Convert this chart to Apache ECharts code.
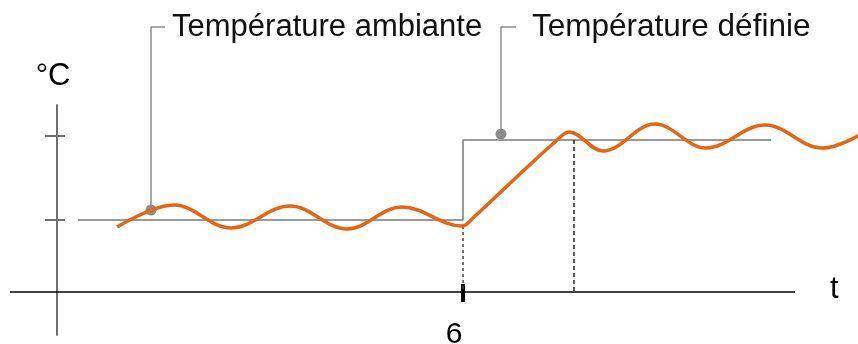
<!DOCTYPE html>
<html>
<head>
<meta charset="utf-8">
<script src="https://cdn.jsdelivr.net/npm/echarts@6/dist/echarts.min.js"></script>
<style>
html,body{margin:0;padding:0;background:#fff;}
#chart{width:858px;height:344px;}
</style>
</head>
<body>
<div id="chart"></div>
<script>
// ---- data (t in time units, v in arbitrary temperature units) ----
var xTickValues = [6];
var yTickValues = [18, 39];
var timeAxisExtent = [-0.695, 10.906];   // drawn part of the t axis
var setpointLine = [[0.31, 18], [6, 18], [6, 38], [10.55, 38]];
// extrema of the ambient temperature wave and points on the linear rise
var ambientTemp = [
  [0.887, 16.25], [1.729, 21.75], [2.571, 16], [3.443, 21.5], [4.286, 15.75],
  [5.098, 21.25], [5.985, 16.5], [6.163, 18.75], [6.872, 30], [7.360, 37.5],
  [7.567, 40], [8.069, 35.25], [8.837, 42], [9.591, 36], [10.463, 41.75],
  [11.305, 36], [12.133, 42]
];
var dropLine1 = [[6, 16.5], [6, 0]];
var dropLine2 = [[7.64, 38], [7.64, 0]];
var calloutAmbient = [[1.389, 20.5], [1.389, 66.25], [1.596, 66.25]];
var calloutSetpoint = [[6.561, 39.5], [6.561, 66.25], [6.783, 66.25]];
var labelAmbient = 'Température ambiante';
var labelSetpoint = 'Température définie';
var timeName = 't';
var tempName = '°C';

var FONT = '"Liberation Sans", Arial, sans-serif';
var chart = echarts.init(document.getElementById('chart'));
chart.setOption({
  animation: false,
  backgroundColor: '#fff',
  grid: {left: 10, right: 0, top: 105, bottom: 9, containLabel: false, outerBoundsMode: 'none'},
  xAxis: {
    type: 'value', min: timeAxisExtent[0], max: 11.837,
    axisLine: {show: false},
    axisTick: {show: false},
    splitLine: {show: false},
    axisLabel: {show: false}
  },
  yAxis: {
    type: 'value', min: -10.75, max: 46.75,
    axisLine: {show: true, onZero: true, lineStyle: {color: '#707070', width: 2}},
    axisTick: {show: false},
    splitLine: {show: false},
    axisLabel: {show: false},
    name: tempName, nameLocation: 'end', nameGap: 13,
    nameTextStyle: {fontSize: 31, color: '#000', fontFamily: FONT, align: 'center', padding: [0, 8, 0, 0]}
  },
  series: [
    {type: 'line', data: timeAxisExtent.map(function (t) { return [t, 0]; }), symbol: 'none', clip: false, silent: true,
     lineStyle: {color: '#000', width: 1.3},
     endLabel: {show: true, formatter: timeName, fontSize: 31, color: '#000', fontFamily: FONT, distance: 35, offset: [0, -3]}},
    {type: 'line', data: setpointLine, symbol: 'none', clip: false, silent: true,
     lineStyle: {color: '#9a9a9a', width: 2}},
    {type: 'line', data: dropLine1, symbol: 'none', clip: false,
     lineStyle: {color: '#444', width: 1.5, type: [3, 3]}},
    {type: 'line', data: dropLine2, symbol: 'none', clip: false,
     lineStyle: {color: '#222', width: 1.5, type: [4, 3]}},
    {type: 'line', data: ambientTemp, symbol: 'none', smooth: 0.37, clip: false,
     lineStyle: {color: '#E8640E', width: 3.5}},
    {type: 'scatter', clip: false, symbol: 'rect', symbolSize: [20, 2], symbolOffset: [-2, 0],
     itemStyle: {color: '#707070', opacity: 1},
     data: yTickValues.map(function (v) { return [0, v]; })},
    {type: 'scatter', clip: false, symbol: 'rect', symbolSize: [4, 18], symbolOffset: [0, 1],
     itemStyle: {color: '#000', opacity: 1},
     label: {show: true, position: 'bottom', distance: 18, offset: [-9, 0],
             fontSize: 30, color: '#000', fontFamily: FONT,
             formatter: function (p) { return String(p.value[0]); }},
     data: xTickValues.map(function (t) { return [t, 0]; })},
    {type: 'line', data: calloutAmbient, symbol: 'none', clip: false,
     lineStyle: {color: '#8c8c8c', width: 1.5},
     endLabel: {show: true, formatter: labelAmbient, fontSize: 31, color: '#111', fontFamily: FONT, distance: 7}},
    {type: 'line', data: calloutSetpoint, symbol: 'none', clip: false,
     lineStyle: {color: '#8c8c8c', width: 1.5},
     endLabel: {show: true, formatter: labelSetpoint, fontSize: 31.5, color: '#111', fontFamily: FONT, distance: 16}},
    {type: 'scatter', clip: false, symbol: 'circle', symbolSize: 11,
     itemStyle: {color: '#8c8c8c', opacity: 1},
     data: [calloutAmbient[0], calloutSetpoint[0]]}
  ]
});
</script>
</body>
</html>
